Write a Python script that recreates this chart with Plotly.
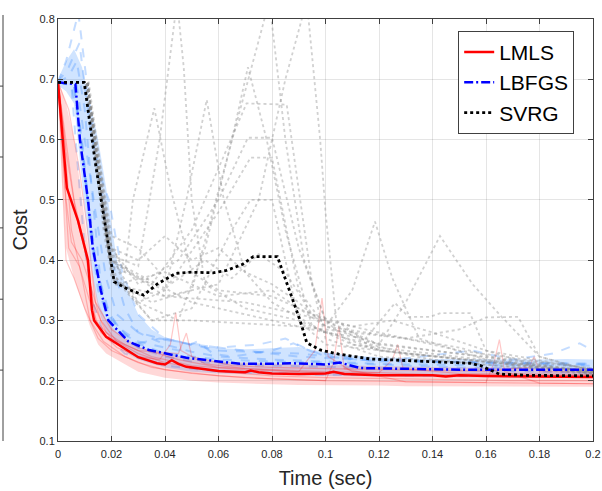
import plotly.graph_objects as go

# Curvas medias (tiempo en s, coste)
lmls_t = [0, 0.0019, 0.0033, 0.0075, 0.0112, 0.0127, 0.0135, 0.018, 0.024, 0.03, 0.037, 0.04,
          0.0425, 0.045, 0.048, 0.055, 0.06, 0.07, 0.072, 0.075, 0.08, 0.09, 0.1, 0.103, 0.107,
          0.12, 0.14, 0.145, 0.15, 0.16, 0.18, 0.2]
lmls_cost = [0.695, 0.6, 0.52, 0.465, 0.40, 0.317, 0.30, 0.273, 0.256, 0.239, 0.229, 0.227,
             0.234, 0.228, 0.223, 0.219, 0.216, 0.214, 0.217, 0.214, 0.212, 0.211, 0.212, 0.215,
             0.211, 0.209, 0.209, 0.207, 0.209, 0.208, 0.207, 0.206]

lbfgs_t = [0, 0.0065, 0.0082, 0.0112, 0.013, 0.016, 0.0188, 0.022, 0.0263, 0.034, 0.042, 0.048,
           0.06, 0.068, 0.078, 0.087, 0.1, 0.1054, 0.113, 0.13, 0.154, 0.18, 0.2]
lbfgs_cost = [0.695, 0.692, 0.6, 0.5, 0.42, 0.35, 0.30, 0.285, 0.265, 0.251, 0.243, 0.238,
              0.232, 0.228, 0.228, 0.229, 0.227, 0.230, 0.221, 0.22, 0.218, 0.218, 0.218]

svrg_t = [0, 0.0098, 0.0138, 0.021, 0.026, 0.032, 0.037, 0.044, 0.05, 0.058, 0.063, 0.069, 0.073,
          0.082, 0.0905, 0.093, 0.098, 0.105, 0.117, 0.13, 0.143, 0.154, 0.158, 0.165, 0.175, 0.2]
svrg_cost = [0.695, 0.695, 0.566, 0.364, 0.352, 0.342, 0.36, 0.378, 0.38, 0.379, 0.383, 0.393,
             0.406, 0.406, 0.30, 0.263, 0.251, 0.244, 0.236, 0.234, 0.231, 0.229, 0.225, 0.211,
             0.209, 0.208]

# Envolventes de las ejecuciones individuales
band_t = [0, 0.003, 0.006, 0.009, 0.012, 0.015, 0.018, 0.022, 0.026, 0.03, 0.035, 0.04, 0.05,
          0.06, 0.07, 0.08, 0.09, 0.1, 0.11, 0.12, 0.13, 0.14, 0.15, 0.16, 0.17, 0.18, 0.19, 0.2]
lmls_upper = [0.70, 0.66, 0.60, 0.50, 0.40, 0.33, 0.30, 0.28, 0.265, 0.255, 0.25, 0.245, 0.237,
              0.232, 0.23, 0.228, 0.227, 0.226, 0.225, 0.224, 0.223, 0.223, 0.222, 0.222, 0.222,
              0.222, 0.221, 0.221]
lmls_lower = [0.69, 0.42, 0.37, 0.33, 0.29, 0.26, 0.245, 0.235, 0.225, 0.215, 0.21, 0.205, 0.20,
              0.197, 0.195, 0.194, 0.193, 0.193, 0.192, 0.192, 0.191, 0.191, 0.191, 0.19, 0.19,
              0.19, 0.19, 0.19]
lbfgs_upper = [0.70, 0.73, 0.75, 0.72, 0.66, 0.60, 0.52, 0.40, 0.35, 0.31, 0.285, 0.272, 0.26,
               0.254, 0.252, 0.254, 0.256, 0.247, 0.242, 0.239, 0.237, 0.236, 0.236, 0.235, 0.235,
               0.235, 0.236, 0.235]
lbfgs_lower = [0.69, 0.68, 0.66, 0.53, 0.40, 0.32, 0.28, 0.26, 0.245, 0.235, 0.228, 0.222, 0.215,
               0.212, 0.21, 0.21, 0.209, 0.208, 0.207, 0.207, 0.206, 0.206, 0.206, 0.206, 0.206,
               0.205, 0.205, 0.205]

# Algunas ejecuciones individuales (t, coste)
lmls_r1 = [(0, 0.695), (0.002, 0.55), (0.004, 0.42), (0.008, 0.39), (0.012, 0.33), (0.016, 0.28),
           (0.022, 0.255), (0.03, 0.24), (0.038, 0.235), (0.042, 0.26), (0.044, 0.313), (0.046, 0.25),
           (0.055, 0.228), (0.07, 0.22), (0.09, 0.215), (0.12, 0.21), (0.15, 0.208), (0.2, 0.207)]
lmls_r2 = [(0, 0.695), (0.003, 0.6), (0.006, 0.5), (0.01, 0.42), (0.013, 0.33), (0.018, 0.28),
           (0.025, 0.26), (0.035, 0.24), (0.05, 0.225), (0.07, 0.218), (0.09, 0.215), (0.096, 0.25),
           (0.0987, 0.337), (0.101, 0.24), (0.11, 0.215), (0.14, 0.21), (0.2, 0.208)]
lmls_r3 = [(0, 0.695), (0.002, 0.62), (0.005, 0.45), (0.009, 0.37), (0.012, 0.3), (0.017, 0.265),
           (0.025, 0.24), (0.035, 0.222), (0.05, 0.212), (0.07, 0.205), (0.1, 0.2), (0.103, 0.23),
           (0.105, 0.29), (0.107, 0.22), (0.13, 0.198), (0.17, 0.196), (0.2, 0.195)]
lmls_r4 = [(0, 0.695), (0.004, 0.65), (0.008, 0.55), (0.011, 0.45), (0.014, 0.33), (0.02, 0.285),
           (0.03, 0.255), (0.045, 0.235), (0.06, 0.222), (0.08, 0.218), (0.1, 0.215), (0.12, 0.213),
           (0.125, 0.235), (0.127, 0.26), (0.129, 0.22), (0.15, 0.212), (0.2, 0.21)]
lmls_r5 = [(0, 0.695), (0.002, 0.5), (0.003, 0.4), (0.006, 0.37), (0.01, 0.32), (0.015, 0.27),
           (0.02, 0.25), (0.03, 0.23), (0.04, 0.218), (0.06, 0.208), (0.08, 0.203), (0.1, 0.2),
           (0.13, 0.198), (0.16, 0.197), (0.163, 0.23), (0.165, 0.268), (0.167, 0.215),
           (0.18, 0.196), (0.2, 0.195)]
lmls_r6 = [(0, 0.695), (0.003, 0.58), (0.007, 0.47), (0.011, 0.4), (0.014, 0.3), (0.02, 0.27),
           (0.03, 0.25), (0.045, 0.245), (0.048, 0.279), (0.05, 0.24), (0.065, 0.225), (0.08, 0.222),
           (0.1, 0.22), (0.13, 0.218), (0.16, 0.216), (0.176, 0.222), (0.178, 0.24), (0.18, 0.215),
           (0.2, 0.214)]
lmls_r7 = [(0, 0.695), (0.003, 0.5), (0.005, 0.43), (0.009, 0.4), (0.012, 0.36), (0.016, 0.30),
           (0.022, 0.265), (0.03, 0.245), (0.04, 0.23), (0.05, 0.222), (0.06, 0.215), (0.08, 0.208),
           (0.1, 0.205), (0.13, 0.203), (0.17, 0.2), (0.2, 0.2)]
lmls_runs = [lmls_r1, lmls_r2, lmls_r3, lmls_r4, lmls_r5, lmls_r6, lmls_r7]

lbfgs_r1 = [(0, 0.695), (0.003, 0.73), (0.0076, 0.81), (0.012, 0.65), (0.016, 0.52), (0.02, 0.40),
            (0.025, 0.32), (0.03, 0.28), (0.04, 0.26), (0.05, 0.248), (0.06, 0.24), (0.08, 0.235),
            (0.1, 0.232), (0.12, 0.228), (0.15, 0.226), (0.2, 0.225)]
lbfgs_r2 = [(0, 0.695), (0.004, 0.72), (0.008, 0.76), (0.012, 0.62), (0.015, 0.55), (0.019, 0.5),
            (0.024, 0.38), (0.03, 0.31), (0.04, 0.27), (0.06, 0.25), (0.09, 0.245), (0.12, 0.232),
            (0.2, 0.228)]
lbfgs_r3 = [(0, 0.695), (0.004, 0.705), (0.007, 0.73), (0.01, 0.65), (0.013, 0.5), (0.016, 0.36),
            (0.02, 0.3), (0.028, 0.265), (0.04, 0.245), (0.06, 0.235), (0.08, 0.232), (0.1, 0.23),
            (0.15, 0.222), (0.2, 0.22)]
lbfgs_r4 = [(0, 0.695), (0.006, 0.69), (0.009, 0.6), (0.012, 0.45), (0.015, 0.35), (0.02, 0.29),
            (0.03, 0.255), (0.04, 0.24), (0.05, 0.232), (0.07, 0.226), (0.09, 0.224), (0.11, 0.222),
            (0.14, 0.218), (0.2, 0.213)]
lbfgs_r5 = [(0, 0.695), (0.005, 0.69), (0.008, 0.63), (0.011, 0.52), (0.014, 0.4), (0.018, 0.32),
            (0.024, 0.28), (0.03, 0.262), (0.038, 0.27), (0.045, 0.265), (0.06, 0.255),
            (0.075, 0.26), (0.085, 0.27), (0.092, 0.255), (0.1, 0.24), (0.12, 0.232),
            (0.155, 0.25), (0.17, 0.235), (0.185, 0.245), (0.195, 0.262), (0.2, 0.25)]
lbfgs_r6 = [(0, 0.695), (0.007, 0.69), (0.01, 0.6), (0.014, 0.48), (0.018, 0.37), (0.022, 0.31),
            (0.03, 0.28), (0.04, 0.268), (0.05, 0.26), (0.07, 0.25), (0.09, 0.24), (0.11, 0.235),
            (0.14, 0.232), (0.2, 0.228)]
lbfgs_r7 = [(0, 0.695), (0.005, 0.69), (0.0075, 0.55), (0.01, 0.42), (0.013, 0.33), (0.017, 0.28),
            (0.025, 0.245), (0.04, 0.225), (0.06, 0.215), (0.08, 0.212), (0.1, 0.21), (0.15, 0.208),
            (0.2, 0.207)]
lbfgs_r8 = [(0, 0.695), (0.006, 0.69), (0.009, 0.58), (0.012, 0.46), (0.016, 0.34), (0.022, 0.29),
            (0.03, 0.265), (0.045, 0.25), (0.052, 0.265), (0.058, 0.245), (0.065, 0.24),
            (0.08, 0.25), (0.088, 0.262), (0.095, 0.248), (0.11, 0.238), (0.14, 0.232),
            (0.17, 0.228), (0.2, 0.226)]
lbfgs_runs = [lbfgs_r1, lbfgs_r2, lbfgs_r3, lbfgs_r4, lbfgs_r5, lbfgs_r6, lbfgs_r7, lbfgs_r8]

svrg_r1 = [(0, 0.695), (0.011, 0.695), (0.019, 0.41), (0.03, 0.39), (0.038, 0.6), (0.0445, 0.83),
           (0.047, 0.72), (0.05, 0.5), (0.055, 0.36), (0.07, 0.32), (0.09, 0.30), (0.11, 0.26),
           (0.14, 0.235), (0.2, 0.21)]
svrg_r2 = [(0, 0.695), (0.0105, 0.695), (0.018, 0.42), (0.03, 0.33), (0.045, 0.3), (0.055, 0.42),
           (0.065, 0.6), (0.071, 0.72), (0.078, 0.6), (0.085, 0.45), (0.095, 0.29), (0.12, 0.25),
           (0.2, 0.215)]
svrg_r3 = [(0, 0.695), (0.011, 0.695), (0.02, 0.38), (0.03, 0.33), (0.04, 0.35), (0.048, 0.5),
           (0.0556, 0.666), (0.062, 0.5), (0.07, 0.38), (0.08, 0.33), (0.1, 0.28), (0.13, 0.245),
           (0.2, 0.212)]
svrg_r4 = [(0, 0.695), (0.011, 0.695), (0.019, 0.4), (0.035, 0.36), (0.05, 0.45), (0.0705, 0.66),
           (0.0855, 0.658), (0.09, 0.52), (0.095, 0.36), (0.1, 0.27), (0.12, 0.24), (0.2, 0.213)]
svrg_r5 = [(0, 0.695), (0.0105, 0.695), (0.017, 0.45), (0.025, 0.38), (0.028, 0.5), (0.036, 0.652),
           (0.042, 0.52), (0.05, 0.38), (0.06, 0.35), (0.08, 0.34), (0.1, 0.30), (0.12, 0.28),
           (0.15, 0.25), (0.2, 0.22)]
svrg_r6 = [(0, 0.695), (0.011, 0.695), (0.02, 0.37), (0.035, 0.33), (0.05, 0.35), (0.065, 0.6),
           (0.079, 0.83), (0.085, 0.6), (0.092, 0.4), (0.1, 0.3), (0.11, 0.26), (0.2, 0.214)]
svrg_r7 = [(0, 0.695), (0.011, 0.695), (0.021, 0.36), (0.04, 0.34), (0.06, 0.36), (0.075, 0.5),
           (0.085, 0.7), (0.093, 0.83), (0.098, 0.6), (0.1, 0.48), (0.104, 0.3), (0.115, 0.265),
           (0.2, 0.215)]
svrg_r8 = [(0, 0.695), (0.0115, 0.695), (0.02, 0.42), (0.03, 0.36), (0.045, 0.4), (0.06, 0.5),
           (0.071, 0.603), (0.08, 0.603), (0.09, 0.42), (0.1, 0.3), (0.12, 0.25), (0.2, 0.213)]
svrg_r9 = [(0, 0.695), (0.011, 0.695), (0.02, 0.39), (0.04, 0.35), (0.06, 0.48), (0.072, 0.57),
           (0.08, 0.57), (0.09, 0.35), (0.1, 0.29), (0.11, 0.35), (0.1185, 0.464), (0.125, 0.37),
           (0.135, 0.27), (0.16, 0.235), (0.2, 0.212)]
svrg_r10 = [(0, 0.695), (0.011, 0.695), (0.02, 0.40), (0.04, 0.34), (0.07, 0.33), (0.1, 0.3),
            (0.12, 0.26), (0.13, 0.33), (0.1428, 0.44), (0.155, 0.36), (0.165, 0.31), (0.18, 0.24),
            (0.2, 0.215)]
svrg_r11 = [(0, 0.695), (0.01, 0.695), (0.02, 0.4), (0.05, 0.33), (0.08, 0.3), (0.1, 0.28),
            (0.115, 0.27), (0.126, 0.329), (0.131, 0.306), (0.139, 0.306), (0.143, 0.312),
            (0.154, 0.312), (0.16, 0.25), (0.175, 0.23), (0.2, 0.215)]
svrg_r12 = [(0, 0.695), (0.011, 0.695), (0.022, 0.36), (0.04, 0.38), (0.06, 0.34), (0.08, 0.35),
            (0.1, 0.29), (0.13, 0.27), (0.15, 0.285), (0.16, 0.305), (0.172, 0.306), (0.18, 0.24),
            (0.2, 0.216)]
svrg_r13 = [(0, 0.695), (0.011, 0.695), (0.02, 0.38), (0.035, 0.30), (0.05, 0.32), (0.065, 0.45),
            (0.072, 0.5), (0.08, 0.5), (0.09, 0.3), (0.1, 0.26), (0.2, 0.212)]
svrg_r14 = [(0, 0.695), (0.0105, 0.695), (0.02, 0.42), (0.03, 0.40), (0.04, 0.44), (0.05, 0.40),
            (0.06, 0.42), (0.07, 0.38), (0.08, 0.36), (0.09, 0.33), (0.1, 0.29), (0.12, 0.26),
            (0.16, 0.24), (0.2, 0.22)]
svrg_r15 = [(0, 0.695), (0.011, 0.695), (0.018, 0.45), (0.025, 0.35), (0.035, 0.30), (0.05, 0.30),
            (0.07, 0.295), (0.09, 0.29), (0.11, 0.28), (0.13, 0.27), (0.15, 0.255), (0.17, 0.23),
            (0.2, 0.215)]
svrg_r16 = [(0, 0.695), (0.011, 0.695), (0.02, 0.44), (0.03, 0.42), (0.042, 0.36), (0.055, 0.40),
            (0.065, 0.37), (0.075, 0.41), (0.085, 0.38), (0.095, 0.31), (0.11, 0.29),
            (0.125, 0.3), (0.14, 0.28), (0.16, 0.25), (0.2, 0.218)]
svrg_runs = [svrg_r1, svrg_r2, svrg_r3, svrg_r4, svrg_r5, svrg_r6, svrg_r7, svrg_r8, svrg_r9,
             svrg_r10, svrg_r11, svrg_r12, svrg_r13, svrg_r14, svrg_r15, svrg_r16]

x_ticks = [0, 0.02, 0.04, 0.06, 0.08, 0.1, 0.12, 0.14, 0.16, 0.18, 0.2]
y_ticks = [0.1, 0.2, 0.3, 0.4, 0.5, 0.6, 0.7, 0.8]

fig = go.Figure()


def banda(t, sup, inf, color):
    fig.add_trace(go.Scatter(x=t + t[::-1], y=sup + inf[::-1], fill='toself', fillcolor=color,
                             line=dict(width=0), hoverinfo='skip', showlegend=False))


def corridas(runs, color, dash, width):
    for r in runs:
        fig.add_trace(go.Scatter(x=[p[0] for p in r], y=[p[1] for p in r], mode='lines',
                                 line=dict(color=color, dash=dash, width=width),
                                 hoverinfo='skip', showlegend=False))


banda(band_t, lbfgs_upper, lbfgs_lower, 'rgba(40,130,255,0.22)')
corridas(lbfgs_runs, 'rgba(60,140,255,0.3)', 'dash', 2)
banda(band_t, lmls_upper, lmls_lower, 'rgba(255,40,40,0.18)')
corridas(lmls_runs, 'rgba(255,0,0,0.22)', 'solid', 1.2)
corridas(svrg_runs, 'rgba(140,140,140,0.4)', 'dot', 1.8)

fig.add_trace(go.Scatter(x=lmls_t, y=lmls_cost, mode='lines', name='LMLS',
                         line=dict(color='#ff0000', width=2.5)))
fig.add_trace(go.Scatter(x=lbfgs_t, y=lbfgs_cost, mode='lines', name='LBFGS',
                         line=dict(color='#0000ff', width=2.5, dash='9px,3px,2px,3px')))
fig.add_trace(go.Scatter(x=svrg_t, y=svrg_cost, mode='lines', name='SVRG',
                         line=dict(color='#000000', width=2.8, dash='dot')))

eje = dict(showline=True, linecolor='#404040', linewidth=1, mirror='ticks', ticks='inside',
           ticklen=5, tickcolor='#404040', showgrid=True, gridcolor='rgba(0,0,0,0.1)',
           zeroline=False, automargin=False, tickfont=dict(size=11, color='#262626'))

fig.update_layout(
    width=602, height=491,
    margin=dict(l=58, r=9, t=19, b=50),
    plot_bgcolor='white', paper_bgcolor='white',
    font=dict(family='Liberation Sans, Arial, Helvetica, sans-serif', color='#262626'),
    xaxis=dict(eje, range=[0, 0.2], tickvals=x_ticks, ticklabelstandoff=3,
               title=dict(text='Time (sec)', font=dict(size=20), standoff=11)),
    yaxis=dict(eje, range=[0.1, 0.8], tickvals=y_ticks,
               title=dict(text='Cost', font=dict(size=20), standoff=6)),
    legend=dict(x=0.748, y=0.972, xanchor='left', yanchor='top', bgcolor='white',
                bordercolor='#404040', borderwidth=1, font=dict(size=21, color='#000000'),
                tracegroupgap=0),
    showlegend=True,
)

# Título del panel (recortado por arriba) y borde del panel vecino
fig.add_annotation(text='(c) a9a', xref='paper', yref='paper', x=0.445, y=1.042,
                   xanchor='center', yanchor='bottom', showarrow=False,
                   font=dict(size=18, color='#262626'))
fig.add_shape(type='line', xref='paper', yref='paper', x0=-0.1028, x1=-0.1028, y0=0, y1=1.0095,
              line=dict(color='#404040', width=1))
for yp in [0.841, 0.673, 0.505, 0.336, 0.168]:
    fig.add_shape(type='line', xref='paper', yref='paper', x0=-0.1028, x1=-0.112, y0=yp, y1=yp,
                  line=dict(color='#404040', width=1))

fig.write_html('out.html', config={'displayModeBar': False},
               post_script="document.body.style.margin='0px';")
